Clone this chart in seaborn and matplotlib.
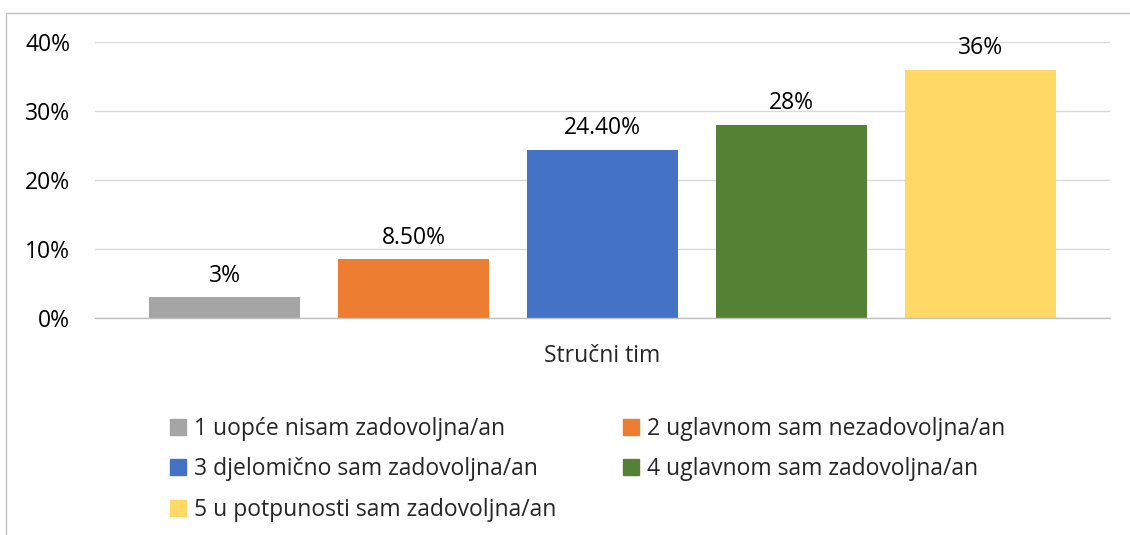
import matplotlib
matplotlib.use("Agg")
import matplotlib.pyplot as plt
import seaborn as sns
import pandas as pd
from matplotlib.patches import Rectangle, Patch

categories = ["Stručni tim"]
series = ["1 uopće nisam zadovoljna/an",
          "2 uglavnom sam nezadovoljna/an",
          "3 djelomično sam zadovoljna/an",
          "4 uglavnom sam zadovoljna/an",
          "5 u potpunosti sam zadovoljna/an"]
values = [3.0, 8.5, 24.4, 28.0, 36.0]
value_labels = ["3%", "8.50%", "24.40%", "28%", "36%"]
yticks = [0, 10, 20, 30, 40]
ytick_labels = ["0%", "10%", "20%", "30%", "40%"]
colors = ["#A5A5A5", "#ED7D31", "#4472C4", "#548235", "#FFD966"]

sns.set_theme(style="white")
plt.rcParams['font.family'] = ['Open Sans', 'DejaVu Sans']

FS = 16.5

df = pd.DataFrame({"cat": categories * len(series), "series": series, "value": values})

fig = plt.figure(figsize=(11.3, 5.35), dpi=100)
ax = fig.add_axes([95/1130, 1-318/535, (1110-95)/1130, (318-42)/535])

sns.barplot(data=df, x="cat", y="value", hue="series", hue_order=series,
            palette=colors, width=0.93, gap=0.2, ax=ax, legend=False,
            saturation=1, linewidth=0)

ax.set_ylim(0, 40)
ax.set_xlim(-0.5, 0.5)
ax.set_yticks(yticks)
ax.set_yticklabels(ytick_labels, fontsize=FS, color="#000000")
ax.tick_params(axis='y', length=0, pad=18)
ax.tick_params(axis='x', length=0, pad=19, labelsize=FS)
ax.set_xlabel("")
ax.set_ylabel("")
ax.yaxis.grid(True, color="#D9D9D9", linewidth=1)
ax.set_axisbelow(True)
for s in ["top", "right", "left"]:
    ax.spines[s].set_visible(False)
ax.spines["bottom"].set_color("#BFBFBF")
ax.spines["bottom"].set_linewidth(1)

for cont, lab in zip(ax.containers, value_labels):
    ax.bar_label(cont, labels=[lab], padding=7, fontsize=FS, color="#000000")

# outer chart frame (left and top visible)
fig.patches.append(Rectangle((6/1130, -0.1), 1.2, 1.1 - 13/535,
                             transform=fig.transFigure, fill=False,
                             edgecolor="#BFBFBF", linewidth=1))

handles = [Patch(facecolor=c, edgecolor=c) for c in colors]
order = [0, 2, 4, 1, 3]
fig.legend([handles[i] for i in order], [series[i] for i in order],
           ncol=2, loc="upper left",
           bbox_to_anchor=(149/1130, 1-396/535), frameon=False,
           fontsize=FS, handlelength=0.7, handleheight=0.7,
           handletextpad=0.35, columnspacing=2.9, labelspacing=0.72)

fig.savefig("out.png", dpi=100)
